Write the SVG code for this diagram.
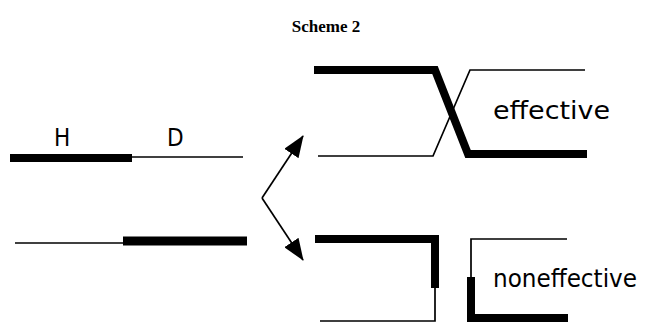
<svg xmlns="http://www.w3.org/2000/svg" width="660" height="325" viewBox="0 0 660 325">
<style>
.thick{stroke:#000;stroke-width:8;fill:none;stroke-linejoin:miter}
.thin{stroke:#000;stroke-width:1.7;fill:none}
.lbl{font-family:"DejaVu Sans","Liberation Sans",sans-serif;font-stretch:condensed;font-size:24px;fill:#000}
.title{font-family:"Liberation Serif",serif;font-weight:bold;font-size:17px;fill:#000}
</style>
<defs>
<marker id="ah" viewBox="0 0 22 17" refX="21" refY="8.5" markerWidth="22" markerHeight="17" markerUnits="userSpaceOnUse" orient="auto">
<path d="M0,0 L22,8.5 L0,17 Z" fill="#000"/>
</marker>
</defs>
<rect width="660" height="325" fill="#fff"/>
<text class="title" x="326" y="32" text-anchor="middle">Scheme 2</text>

<g id="hd-top">
<line class="thick" x1="10" y1="158" x2="132" y2="158"/>
<line class="thin" x1="132" y1="157" x2="243" y2="157"/>
<text class="lbl" x="54" y="146" textLength="14">H</text>
<text class="lbl" x="167" y="146" textLength="15">D</text>
</g>

<g id="hd-bottom">
<line class="thin" x1="15" y1="243" x2="123" y2="243"/>
<line class="thick" x1="123" y1="241" x2="247" y2="241" style="stroke-width:9"/>
</g>

<g id="effective">
<polyline class="thick" points="314,70 435,70 468,154 587,154"/>
<polyline class="thin" points="318,156 433,156 470,70 585,70"/>
<text class="lbl" x="493" y="119" textLength="117" lengthAdjust="spacingAndGlyphs">effective</text>
</g>

<g id="noneffective">
<polyline class="thick" points="315,239 435,239 435,288"/>
<polyline class="thin" points="435,288 435,321 320,321"/>
<polyline class="thin" points="567,239 471,239 471,277"/>
<polyline class="thick" points="471,277 471,318 568,318"/>
<text class="lbl" x="493" y="287" textLength="144" lengthAdjust="spacingAndGlyphs">noneffective</text>
</g>

<g id="connectors">
<line class="thin" x1="262" y1="198" x2="303" y2="136" marker-end="url(#ah)"/>
<line class="thin" x1="262" y1="198" x2="303" y2="260" marker-end="url(#ah)"/>
</g>
</svg>
